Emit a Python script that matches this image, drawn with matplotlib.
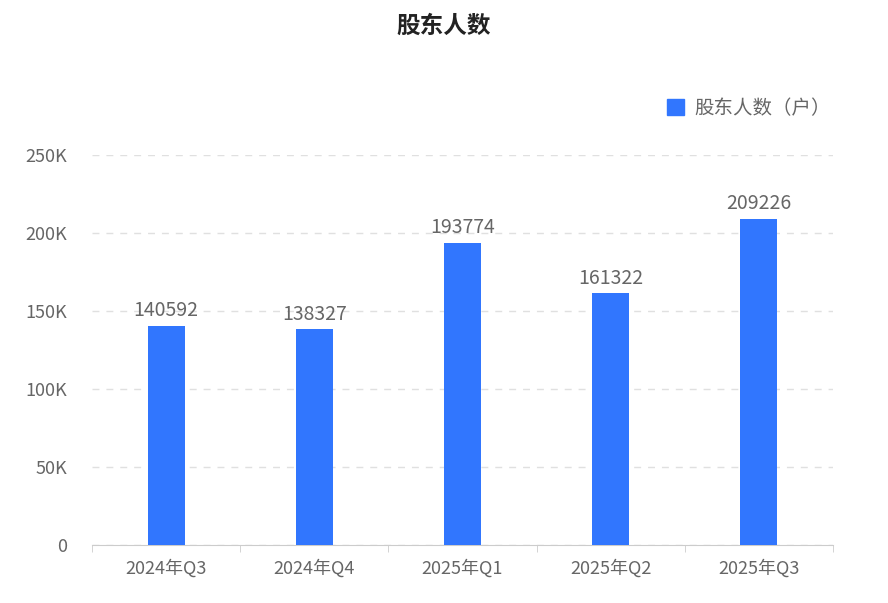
import matplotlib
matplotlib.use("Agg")
import matplotlib.pyplot as plt
from matplotlib.patches import Patch

plt.rcParams['font.family'] = ['Noto Sans CJK SC', 'DejaVu Sans']

categories = ["2024年Q3", "2024年Q4", "2025年Q1", "2025年Q2", "2025年Q3"]
values = [140592, 138327, 193774, 161322, 209226]
yticks = [0, 50000, 100000, 150000, 200000, 250000]
ytick_labels = ["0", "50K", "100K", "150K", "200K", "250K"]
color = "#3176FE"

fig = plt.figure(figsize=(8.88, 6.03), dpi=100)
ax = fig.add_axes([0.1036, 0.0962, 0.8345, 0.6468])
x = list(range(len(categories)))
ax.bar(x, values, width=0.25, color=color, zorder=3)
for xi, v in zip(x, values):
    ax.text(xi, v + 3000, str(v), ha='center', va='bottom', fontsize=14, color='#666666')

ax.set_xlim(-0.5, len(categories) - 0.5)
ax.set_ylim(0, 250000)
ax.set_yticks(yticks)
ax.set_yticklabels(ytick_labels, fontsize=13, color='#666666')
ax.set_xticks(x)
ax.set_xticklabels(categories, fontsize=13, color='#666666')
ax.set_xticks([i - 0.5 for i in range(len(categories) + 1)], minor=True)
ax.tick_params(axis='x', which='major', length=0, pad=10)
ax.tick_params(axis='x', which='minor', length=5, color='#cccccc')
ax.tick_params(axis='y', length=0, pad=18)
ax.grid(axis='y', linestyle=(0, (5, 5)), color='#e0e0e0', linewidth=1, zorder=0)
for s in ['top', 'right', 'left']:
    ax.spines[s].set_visible(False)
ax.spines['bottom'].set_color('#cccccc')

fig.text(0.5, 0.958, "股东人数", ha='center', va='center', fontsize=17, fontweight='bold', color='#222222')
fig.legend(handles=[Patch(color=color, label="股东人数（户）")], loc='center right',
           bbox_to_anchor=(0.955, 0.82), frameon=False, fontsize=14, labelcolor='#666666',
           handlelength=0.9, handleheight=0.9, handletextpad=0.5)
fig.savefig("out.png", dpi=100)
